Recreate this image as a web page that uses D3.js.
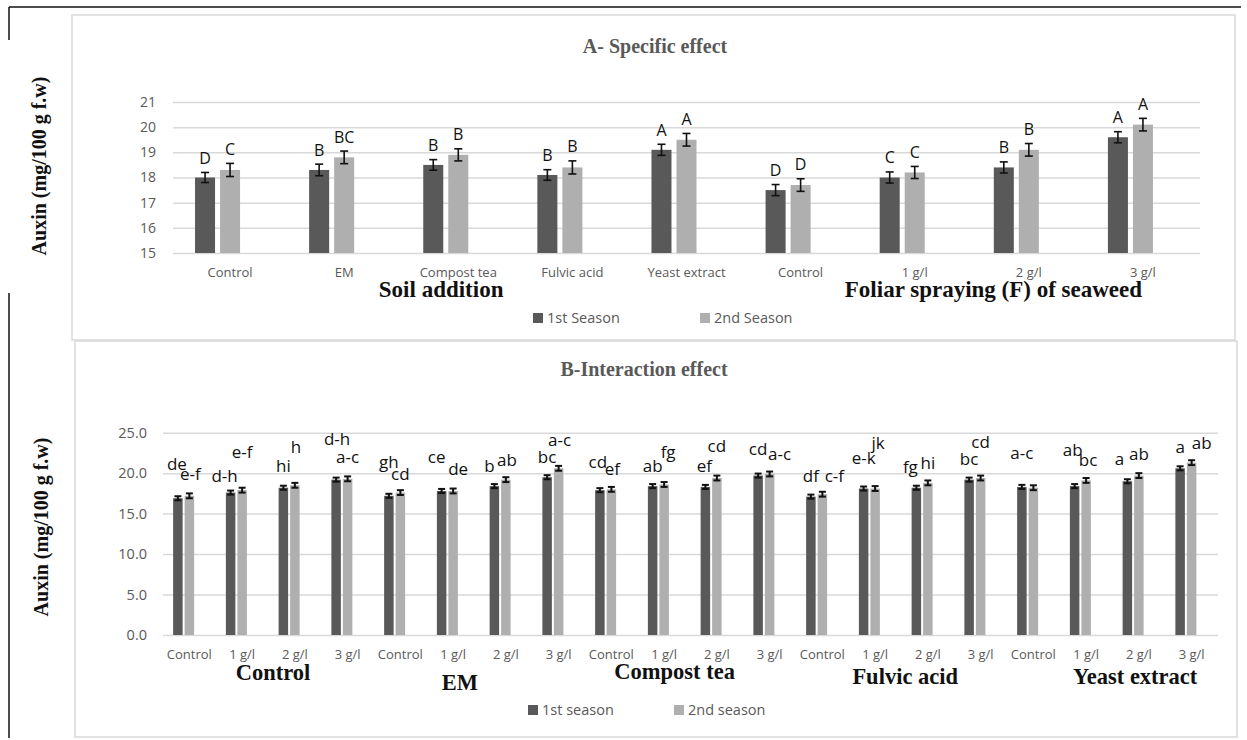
<!DOCTYPE html>
<html>
<head>
<meta charset="utf-8">
<script src="https://cdn.jsdelivr.net/npm/d3@7"></script>
<style>
  body { margin: 0; background: #fff; }
  svg { display: block; }
  .sans { font-family: "Open Sans", sans-serif; }
  .serif { font-family: "Liberation Serif", "DejaVu Serif", serif; font-weight: bold; }
</style>
</head>
<body>
<svg id="chart" width="1247" height="740"></svg>
<script>
// ---- A: specific effect ----
const specificCats = ["Control", "EM", "Compost tea", "Fulvic acid", "Yeast extract", "Control", "1 g/l", "2 g/l", "3 g/l"];
const specificS1 = [18.0, 18.3, 18.5, 18.1, 19.1, 17.5, 18.0, 18.4, 19.6];
const specificS2 = [18.3, 18.8, 18.9, 18.4, 19.5, 17.7, 18.2, 19.1, 20.1];
const specificErr1 = [0.20, 0.23, 0.21, 0.21, 0.22, 0.22, 0.22, 0.22, 0.22];
const specificErr2 = [0.26, 0.25, 0.24, 0.26, 0.25, 0.25, 0.24, 0.25, 0.25];
const specificLet1 = ["D", "B", "B", "B", "A", "D", "C", "B", "A"];
const specificLet2 = ["C", "BC", "B", "B", "A", "D", "C", "B", "A"];
const specificGroups = ["Soil addition", "Foliar spraying (F) of seaweed"];
const specificTicks = [15, 16, 17, 18, 19, 20, 21];
const specificSeries = ["1st Season", "2nd Season"];

// ---- B: interaction effect ----
const soilTypes = ["Control", "EM", "Compost tea", "Fulvic acid", "Yeast extract"];
const seaweedDoses = ["Control", "1 g/l", "2 g/l", "3 g/l"];
const interS1 = [16.9, 17.6, 18.2, 19.2, 17.2, 17.8, 18.4, 19.5, 17.9, 18.4, 18.3, 19.7,
                 17.1, 18.1, 18.2, 19.2, 18.3, 18.4, 19.0, 20.6];
const interS2 = [17.2, 17.9, 18.5, 19.3, 17.6, 17.8, 19.2, 20.6, 18.0, 18.6, 19.4, 19.9,
                 17.4, 18.1, 18.8, 19.4, 18.2, 19.1, 19.7, 21.3];
const interErr1 = [0.25, 0.25, 0.25, 0.25, 0.25, 0.25, 0.25, 0.25, 0.25, 0.25, 0.25, 0.25,
                   0.25, 0.25, 0.25, 0.25, 0.25, 0.25, 0.25, 0.25];
const interErr2 = [0.3, 0.3, 0.3, 0.3, 0.3, 0.3, 0.3, 0.3, 0.3, 0.3, 0.3, 0.3,
                   0.3, 0.3, 0.3, 0.3, 0.3, 0.3, 0.3, 0.3];
const interLet1 = ["de", "d-h", "hi", "d-h", "gh", "ce", "b", "bc", "cd", "ab", "ef", "cd",
                   "df", "e-k", "fg", "bc", "a-c", "ab", "a", "a"];
const interLet2 = ["e-f", "e-f", "h", "a-c", "cd", "de", "ab", "a-c", "ef", "fg", "cd", "a-c",
                   "c-f", "jk", "hi", "cd", "", "bc", "ab", "ab"];
const interTicks = [0, 5, 10, 15, 20, 25];
const interSeries = ["1st season", "2nd season"];

// label nudges (Excel placed these by hand)
const interLift1 = [28, 11, 16, 35, 28, 28, 14, 14, 22, 14, 15, 21, 15, 25, 15, 15, 28, 30, 16, 15];
const interDx1 = [-1, -6, 0, 1, 0, -5, -5, 0, -2, 0, -1, 0, 0, 0, -6, 0, 0, -2, -8, 0];
const interLift2 = [16, 32, 32, 16, 13, 16, 14, 22, 14, 26, 26, 14, 12, 40, 14, 30, 0, 14, 16, 14];
const interDx2 = [1, 0, 1, 0, 0, 5, 1, 1, 1, 4, 0, 10, 12, 3, 0, 0, 0, 2, 0, 10];

const dark = "#595959", light = "#afafaf", grid = "#d9d9d9", txt = "#595959";

const svg = d3.select("#chart");

// outer frame
svg.append("line").attr("x1", 9).attr("x2", 1241).attr("y1", 7).attr("y2", 7)
  .attr("stroke", "#111").attr("stroke-width", 1.5);
svg.append("line").attr("x1", 9).attr("x2", 9).attr("y1", 7).attr("y2", 40)
  .attr("stroke", "#111").attr("stroke-width", 1.5);
svg.append("line").attr("x1", 9).attr("x2", 9).attr("y1", 293).attr("y2", 738)
  .attr("stroke", "#111").attr("stroke-width", 1.5);

// panel boxes
svg.append("rect").attr("x", 72).attr("y", 15).attr("width", 1163).attr("height", 325)
  .attr("fill", "none").attr("stroke", grid).attr("stroke-width", 1.5);
svg.append("rect").attr("x", 75).attr("y", 341).attr("width", 1162).attr("height", 396)
  .attr("fill", "none").attr("stroke", grid).attr("stroke-width", 1.5);

function drawPanel(p) {
  const g = svg.append("g");
  const x0 = d3.scaleBand().domain(d3.range(p.cats.length)).range(p.xr)
    .paddingInner(p.pad).paddingOuter(p.pad / 2);
  const x1 = d3.scaleBand().domain(["s1", "s2", "s3"]).range([0, x0.bandwidth()]).paddingInner(p.innerPad);
  const y = d3.scaleLinear().domain(p.domain).range(p.yr);

  // grid
  g.append("g").attr("transform", `translate(${p.xr[0]},0)`)
    .call(d3.axisLeft(y).tickValues(p.ticks).tickSize(-(p.xr[1] - p.xr[0])).tickFormat(""))
    .call(a => a.select(".domain").remove())
    .call(a => a.selectAll("line").attr("stroke", grid).attr("stroke-width", 1.5));

  // y tick labels
  g.append("g").attr("transform", `translate(${p.tickX},0)`)
    .call(d3.axisLeft(y).tickValues(p.ticks).tickSize(0).tickPadding(0).tickFormat(d3.format(p.fmt)))
    .call(a => a.select(".domain").remove())
    .call(a => a.selectAll("text").attr("class", "sans").attr("fill", txt)
      .style("font-size", p.tickFont + "px"));

  const series = [
    { key: "s1", vals: p.s1, err: p.e1, lets: p.l1, color: dark, lift: p.lift1, dx: p.dx1 },
    { key: "s2", vals: p.s2, err: p.e2, lets: p.l2, color: light, lift: p.lift2, dx: p.dx2 }
  ];
  series.forEach(s => {
    const cx = i => x0(i) + x1(s.key) + x1.bandwidth() / 2;
    g.selectAll(null).data(s.vals).join("rect")
      .attr("x", (d, i) => x0(i) + x1(s.key))
      .attr("width", x1.bandwidth())
      .attr("y", d => y(d))
      .attr("height", d => y(p.domain[0]) - y(d))
      .attr("fill", s.color);
    const eb = g.selectAll(null).data(s.vals).join("g");
    eb.append("line")
      .attr("x1", (d, i) => cx(i)).attr("x2", (d, i) => cx(i))
      .attr("y1", (d, i) => y(d - s.err[i])).attr("y2", (d, i) => y(d + s.err[i]));
    eb.append("line")
      .attr("x1", (d, i) => cx(i) - p.cap / 2).attr("x2", (d, i) => cx(i) + p.cap / 2)
      .attr("y1", (d, i) => y(d + s.err[i])).attr("y2", (d, i) => y(d + s.err[i]));
    eb.append("line")
      .attr("x1", (d, i) => cx(i) - p.cap / 2).attr("x2", (d, i) => cx(i) + p.cap / 2)
      .attr("y1", (d, i) => y(d - s.err[i])).attr("y2", (d, i) => y(d - s.err[i]));
    eb.selectAll("line").attr("stroke", "#111").attr("stroke-width", p.errW);

    g.selectAll(null).data(s.lets).join("text")
      .attr("class", "sans")
      .attr("x", (d, i) => cx(i) + (s.dx ? s.dx[i] : 0))
      .attr("y", (d, i) => s.lift ? y(s.vals[i]) - s.lift[i] : y(s.vals[i] + s.err[i]) - 8.5)
      .attr("text-anchor", "middle")
      .style("font-size", p.letFont + "px")
      .attr("fill", "#111")
      .text(d => d);
  });

  // category labels
  g.selectAll(null).data(p.cats).join("text")
    .attr("class", "sans")
    .attr("x", (d, i) => x0(i) + x0.bandwidth() / 2)
    .attr("y", p.catY)
    .attr("text-anchor", "middle")
    .attr("fill", txt)
    .style("font-size", "13px")
    .text(d => d);

  // group labels
  const uToX = u => p.xr[0] + u * x0.step();
  g.selectAll(null).data(p.groups).join("text")
    .attr("class", "serif")
    .attr("x", (d, i) => uToX(p.groupU[i]))
    .attr("y", (d, i) => p.groupY[i])
    .attr("text-anchor", "middle")
    .attr("fill", "#111")
    .style("font-size", p.groupFont + "px")
    .text(d => d);

  // title
  g.append("text").attr("class", "serif")
    .attr("x", p.titleX).attr("y", p.titleY).attr("text-anchor", "middle")
    .attr("fill", txt).style("font-size", "20px").text(p.title);

  // y axis title
  g.append("text").attr("class", "serif")
    .attr("transform", `translate(${p.axisTitleX},${p.axisTitleY}) rotate(-90)`)
    .attr("text-anchor", "middle")
    .attr("fill", "#111").style("font-size", "20px")
    .text("Auxin (mg/100 g f.w)");

  // legend
  const lg = g.selectAll(null).data(p.series).join("g")
    .attr("transform", (d, i) => `translate(${p.legX[i]},${p.legY})`);
  lg.append("rect").attr("x", 0).attr("y", -5).attr("width", 10).attr("height", 10)
    .attr("fill", (d, i) => i ? light : dark);
  lg.append("text").attr("class", "sans").attr("x", 14).attr("y", 5)
    .attr("fill", txt).style("font-size", "14.5px").text(d => d);
}

drawPanel({
  cats: specificCats, s1: specificS1, s2: specificS2, e1: specificErr1, e2: specificErr2,
  l1: specificLet1, l2: specificLet2, series: specificSeries,
  xr: [173, 1200], pad: 0.386, innerPad: 0.2,
  domain: [15, 21], yr: [253, 102], ticks: specificTicks, fmt: "d",
  tickX: 156, tickFont: 14, letFont: 16, cap: 8, errW: 1.6,
  catY: 277, groups: specificGroups, groupU: [2.35, 7.19], groupY: [297, 297], groupFont: 23,
  title: "A- Specific effect", titleX: 655, titleY: 53,
  axisTitleX: 46, axisTitleY: 166,
  legX: [533, 700], legY: 318
});

const interCats = soilTypes.flatMap(() => seaweedDoses);
drawPanel({
  cats: interCats, s1: interS1, s2: interS2, e1: interErr1, e2: interErr2,
  l1: interLet1, l2: interLet2, series: interSeries,
  lift1: interLift1, dx1: interDx1, lift2: interLift2, dx2: interDx2,
  xr: [163, 1218], pad: 0.384, innerPad: 0.174,
  domain: [0, 25], yr: [635, 432.7], ticks: interTicks, fmt: ".1f",
  tickX: 147, tickFont: 14.5, letFont: 17, cap: 7, errW: 2,
  catY: 659, groups: soilTypes, groupU: [2.085, 5.63, 9.7, 14.07, 18.43],
  groupY: [680, 690, 679, 684, 684], groupFont: 22.5,
  title: "B-Interaction effect", titleX: 644, titleY: 376,
  axisTitleX: 48, axisTitleY: 527,
  legX: [528, 674], legY: 710
});
</script>
</body>
</html>
